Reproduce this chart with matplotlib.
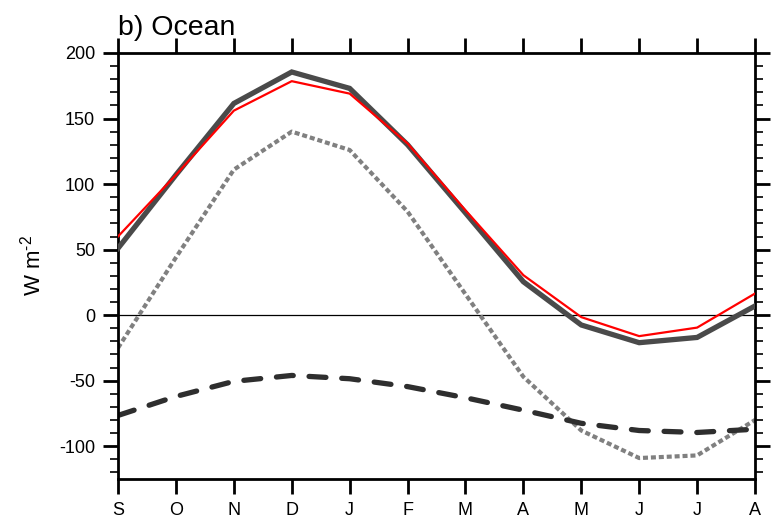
import numpy as np
import matplotlib
matplotlib.use('Agg')
import matplotlib.pyplot as plt
from matplotlib.ticker import MultipleLocator

plt.rcParams['font.family'] = ['Liberation Sans', 'DejaVu Sans']
plt.rcParams['axes.unicode_minus'] = False
plt.rcParams['mathtext.fontset'] = 'custom'
plt.rcParams['mathtext.rm'] = 'Liberation Sans'
plt.rcParams['mathtext.default'] = 'regular'

months = ['S', 'O', 'N', 'D', 'J', 'F', 'M', 'A', 'M', 'J', 'J', 'A']

# seasonal cycle over ocean, W m-2
total_red  = [60, 107, 156, 178.5, 169, 131, 80, 30.5, -1.5, -16, -9.5, 16.5]
total_gray = [51, 107, 161.5, 185.5, 173, 130, 78, 25.5, -7.5, -21, -17, 7]
dotted     = [-25, 44, 111, 140, 126, 79, 16, -47, -88, -109, -107, -80]
dashed     = [-76.5, -62, -50.5, -46, -48.5, -54.5, -63, -72.5, -82.5, -88, -89.5, -87]

x = np.arange(len(months))

fig = plt.figure(figsize=(7.79, 5.23), dpi=100)
ax = fig.add_axes([0.1515, 0.0841, 0.8177, 0.8146])

ax.axhline(0, color='black', lw=0.9, zorder=1)

ax.plot(x, total_gray, color='#4a4a4a', lw=3.8, solid_joinstyle='miter', zorder=3)
ax.plot(x, total_red, color='#ff0000', lw=1.6, zorder=4)
ax.plot(x, dotted, color='#808080', lw=3.0, ls=(0, (1.2, 0.7)), zorder=2)
ax.plot(x, dashed, color='#2e2e2e', lw=3.8, ls=(0, (3.2, 3.0)),
        dash_capstyle='round', zorder=2)

ax.set_xlim(0, 11)
ax.set_ylim(-125, 200)
ax.set_xticks(x)
ax.set_xticklabels(months)
ax.yaxis.set_major_locator(MultipleLocator(50))
ax.yaxis.set_minor_locator(MultipleLocator(10))

ax.tick_params(axis='both', which='major', direction='out', length=10.5, width=2,
               labelsize=13, pad=6)
ax.tick_params(axis='y', which='minor', direction='out', length=5.5, width=1.2)
ax.tick_params(axis='y', which='both', right=True)
ax.tick_params(axis='x', which='both', top=True)
ax.tick_params(axis='x', which='minor', bottom=False, top=False)
for s in ax.spines.values():
    s.set_linewidth(2)

ax.set_ylabel(r'W m$^{\text{-}2}$', fontsize=16, labelpad=10)
ax.set_title('b) Ocean', loc='left', fontsize=20.5, pad=13)

fig.savefig('out.png', dpi=100)
